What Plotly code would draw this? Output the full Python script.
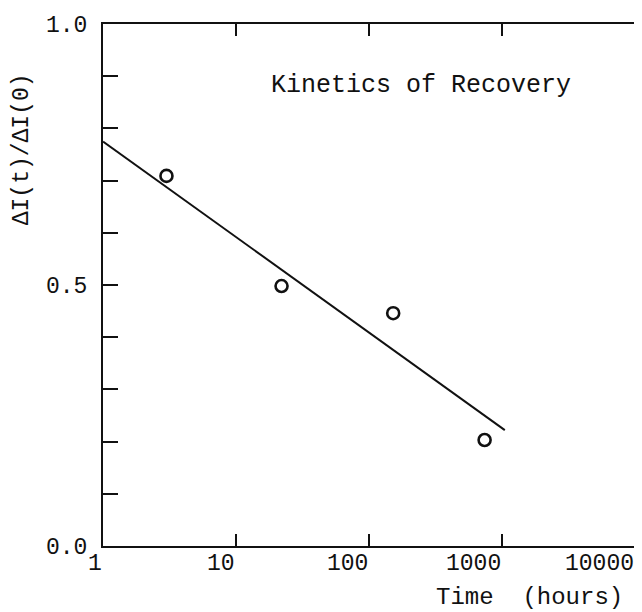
import math
import plotly.graph_objects as go

# Data
time_hours = [3, 22, 152, 740]
ratio = [0.709, 0.498, 0.446, 0.203]

fit_time = [1, 1050]
fit_ratio = [0.775, 0.222]

x_tick_vals = [1, 10, 100, 1000, 10000]
x_tick_text = ["1", "10", "100", "1000", "10000"]
y_tick_vals = [0.0, 0.1, 0.2, 0.3, 0.4, 0.5, 0.6, 0.7, 0.8, 0.9, 1.0]
y_tick_text = ["0.0", "", "", "", "", "0.5", "", "", "", "", "1.0"]

FONT = "Liberation Mono, Courier New, monospace"
INK = "#111111"

fig = go.Figure()
fig.add_trace(go.Scatter(
    x=fit_time, y=fit_ratio, mode="lines",
    line=dict(color=INK, width=2), showlegend=False, hoverinfo="skip"))
fig.add_trace(go.Scatter(
    x=time_hours, y=ratio, mode="markers",
    marker=dict(symbol="circle-open", size=12, color=INK, line=dict(width=2.6)),
    showlegend=False))

annotations = []
for v, t in zip(x_tick_vals, x_tick_text):
    annotations.append(dict(
        x=math.log10(v), y=0, xref="x", yref="paper", text=t,
        showarrow=False, xanchor="right", yanchor="top", xshift=1, yshift=-3,
        font=dict(family=FONT, size=23, color=INK)))
annotations.append(dict(
    x=1, y=0, xref="paper", yref="paper", text="Time\u00a0\u00a0(hours)",
    showarrow=False, xanchor="right", yanchor="top", xshift=-10, yshift=-36,
    font=dict(family=FONT, size=24, color=INK)))
annotations.append(dict(
    x=0, y=0.76, xref="paper", yref="paper", text="\u0394I(t)/\u0394I(0)",
    showarrow=False, textangle=-90, xanchor="center", yanchor="middle", xshift=-81,
    font=dict(family=FONT, size=23, color=INK)))
annotations.append(dict(
    x=0.597, y=0.883, xref="paper", yref="paper", text="Kinetics of Recovery",
    showarrow=False, xanchor="center", yanchor="middle",
    font=dict(family=FONT, size=25, color=INK)))

fig.update_layout(
    width=634, height=604,
    margin=dict(l=95, r=5, t=16, b=66),
    paper_bgcolor="white", plot_bgcolor="white",
    font=dict(family=FONT, color=INK),
    annotations=annotations,
)
fig.update_xaxes(
    type="log", range=[0, 4], tickvals=x_tick_vals, ticktext=[""] * 5,
    ticks="inside", ticklen=12, tickwidth=2, tickcolor=INK,
    showline=True, linewidth=2, linecolor=INK, mirror="ticks",
    showgrid=False, zeroline=False)
fig.update_yaxes(
    range=[0, 1], tickvals=y_tick_vals, ticktext=y_tick_text,
    ticks="inside", ticklen=15, tickwidth=2, tickcolor=INK,
    ticklabelstandoff=9,
    tickfont=dict(family=FONT, size=23, color=INK),
    showline=True, linewidth=2, linecolor=INK, mirror=True,
    showgrid=False, zeroline=False)

fig.write_html("out.html")
